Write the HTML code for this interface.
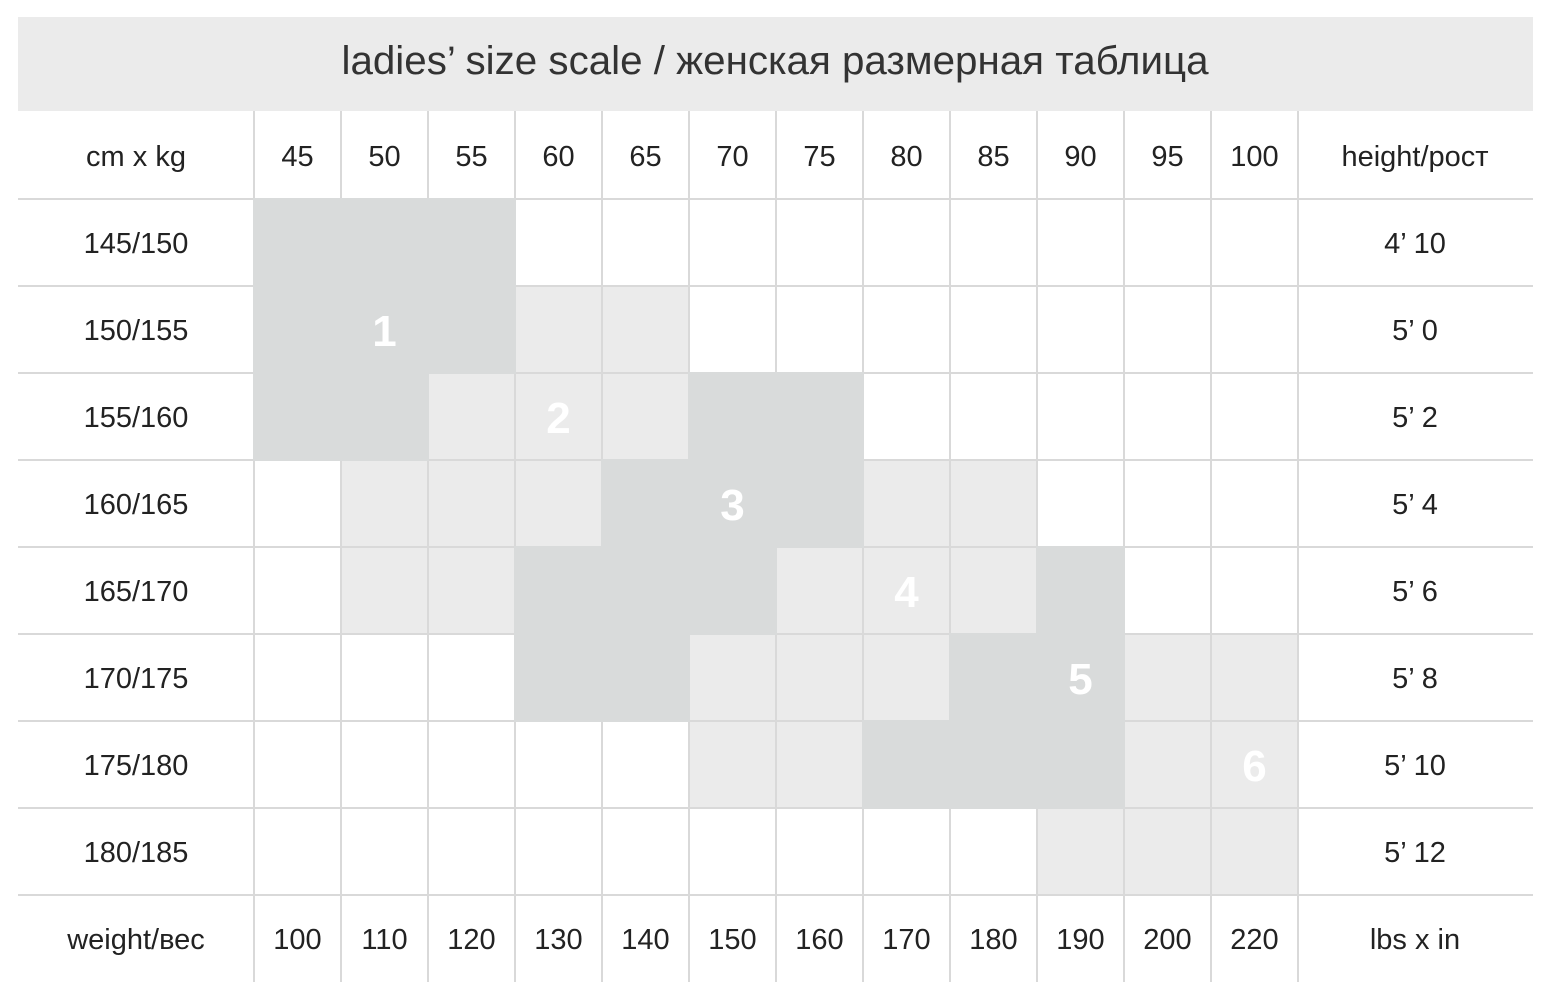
<!DOCTYPE html>
<html><head><meta charset="utf-8"><style>
html,body{margin:0;padding:0;background:#fff;}
svg{display:block;}
text{font-family:"Liberation Sans",sans-serif;}
</style></head><body>
<svg width="1550" height="994" viewBox="0 0 1550 994" xmlns="http://www.w3.org/2000/svg">
<rect x="0" y="0" width="1550" height="994" fill="#fff"/>
<rect x="18" y="17" width="1515" height="94" fill="#ebebeb"/>
<text x="775" y="74" font-size="40" fill="#333" text-anchor="middle" textLength="867" lengthAdjust="spacingAndGlyphs">ladies’ size scale / женская размерная таблица</text>
<g id="light"></g>
<g fill="#d9d9d9">
<rect x="253" y="111" width="2" height="871"/><rect x="340" y="111" width="2" height="871"/><rect x="427" y="111" width="2" height="871"/><rect x="514" y="111" width="2" height="871"/><rect x="601" y="111" width="2" height="871"/><rect x="688" y="111" width="2" height="871"/><rect x="775" y="111" width="2" height="871"/><rect x="862" y="111" width="2" height="871"/><rect x="949" y="111" width="2" height="871"/><rect x="1036" y="111" width="2" height="871"/><rect x="1123" y="111" width="2" height="871"/><rect x="1210" y="111" width="2" height="871"/><rect x="1297" y="111" width="2" height="871"/>
<rect x="18" y="198" width="1515" height="2"/><rect x="18" y="285" width="1515" height="2"/><rect x="18" y="372" width="1515" height="2"/><rect x="18" y="459" width="1515" height="2"/><rect x="18" y="546" width="1515" height="2"/><rect x="18" y="633" width="1515" height="2"/><rect x="18" y="720" width="1515" height="2"/><rect x="18" y="807" width="1515" height="2"/><rect x="18" y="894" width="1515" height="2"/>
</g>
<g id="dark"></g>
<g font-size="29" fill="#222" text-anchor="middle" id="txt"></g>
</svg>
<script>
var grid=[
"DDD.........",
"DDDLL.......",
"DDLLLDD.....",
".LLLDDDLL...",
".LLDDDLLLD..",
"...DDLLLDDLL",
".....LLDDDLL",
".........LLL"];
var ns="http://www.w3.org/2000/svg",gl=document.getElementById('light'),gd=document.getElementById('dark');
grid.forEach(function(row,r){for(var c=0;c<12;c++){var ch=row[c];if(ch=='.')continue;var e=document.createElementNS(ns,'rect');
if(ch=='D'){e.setAttribute('x',253+87*c);e.setAttribute('y',198+87*r);e.setAttribute('width',89);e.setAttribute('height',89);e.setAttribute('fill','#d9dbdb');gd.appendChild(e);}
else{e.setAttribute('x',255+87*c);e.setAttribute('y',200+87*r);e.setAttribute('width',85);e.setAttribute('height',85);e.setAttribute('fill','#ebebeb');gl.appendChild(e);}}});
var t=document.getElementById('txt');
function tx(x,y,s,extra){var e=document.createElementNS(ns,'text');e.setAttribute('x',x);e.setAttribute('y',y);e.textContent=s;if(extra)for(var k in extra)e.setAttribute(k,extra[k]);t.appendChild(e);}
var kg=[45,50,55,60,65,70,75,80,85,90,95,100],lb=[100,110,120,130,140,150,160,170,180,190,200,220];
var cm=["145/150","150/155","155/160","160/165","165/170","170/175","175/180","180/185"],ft=["4’ 10","5’ 0","5’ 2","5’ 4","5’ 6","5’ 8","5’ 10","5’ 12"];
tx(136,166,"cm x kg");tx(1415,166,"height/рост");tx(136,949,"weight/вес");tx(1415,949,"lbs x in");
for(var i=0;i<12;i++){tx(297.5+87*i,166,kg[i]);tx(297.5+87*i,949,lb[i]);}
for(var r=0;r<8;r++){tx(136,253+87*r,cm[r]);tx(1415,253+87*r,ft[r]);}
var nums=[[1,1,1],[2,3,2],[3,5,3],[4,7,4],[5,9,5],[6,11,6]];
nums.forEach(function(n){tx(297.5+87*n[1],259+87*n[2],String(n[0]),{"font-size":"44","font-weight":"bold","fill":"#fff"});});
</script>
</body></html>
